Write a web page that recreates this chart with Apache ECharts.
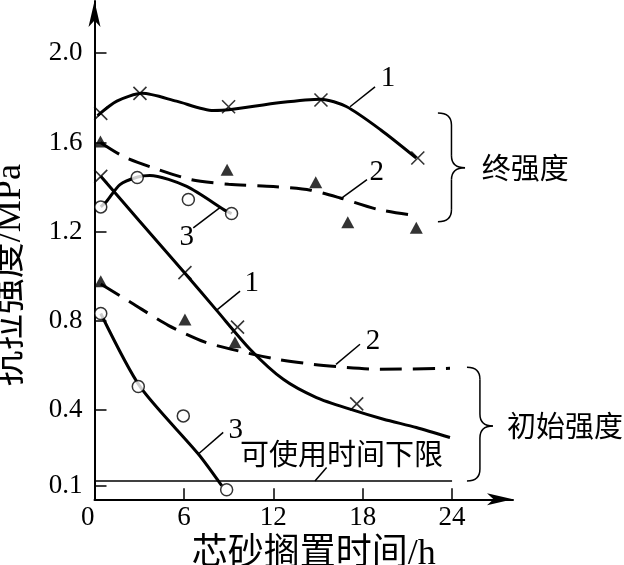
<!DOCTYPE html>
<html>
<head>
<meta charset="utf-8">
<script src="https://cdn.jsdelivr.net/npm/echarts@6/dist/echarts.min.js"></script>
<style>
html,body{margin:0;padding:0;background:#fff;}
#chart{width:624px;height:565px;}
</style>
</head>
<body>
<div id="chart"></div>
<script>
// ---- data ----
const xTicks = [0, 6, 12, 18, 24];
const yTickValues = [0.06, 0.4, 0.8, 1.2, 1.6, 2.0];
const yTickLabels = ['0.1', '0.4', '0.8', '1.2', '1.6', '2.0'];

// final strength (终强度)
const final1Points = [[0.42, 1.73], [3.05, 1.82], [9.0, 1.76], [15.2, 1.79], [21.7, 1.53]];
const final1Curve = [[0.2, 1.72], [1.5, 1.785], [3.2, 1.82], [5.5, 1.785], [7.97, 1.743], [9.0, 1.746], [12.5, 1.779], [15.2, 1.794], [16.9, 1.761], [19.2, 1.657], [21.6, 1.53]];
const final2Points = [[0.4, 1.604], [8.9, 1.478], [14.85, 1.421], [17.0, 1.242], [21.6, 1.217]];
const final2Curve = [[0.4, 1.60], [2.0, 1.535], [4.3, 1.478], [6.5, 1.433], [9.0, 1.412], [12.0, 1.402], [14.5, 1.386], [16.5, 1.351], [19.0, 1.30], [21.5, 1.272]];
const final3Points = [[0.42, 1.311], [2.87, 1.443], [6.3, 1.344], [9.2, 1.281]];
const final3Curve = [[0.42, 1.311], [0.82, 1.336], [1.71, 1.411], [2.9, 1.445], [3.72, 1.452], [6.19, 1.403], [8.87, 1.291], [9.2, 1.281]];

// initial strength (初始强度)
const init1Points = [[0.42, 1.448], [6.07, 1.016], [9.6, 0.772], [17.6, 0.428]];
const init1Curve = [[0.42, 1.448], [3.0, 1.249], [6.07, 1.013], [8.2, 0.847], [10.44, 0.673], [12.67, 0.538], [14.9, 0.456], [17.15, 0.404], [19.4, 0.359], [21.6, 0.322], [23.86, 0.277]];
const init2Points = [[0.42, 0.978], [6.07, 0.806], [9.43, 0.704]];
const init2Curve = [[0.42, 0.965], [2.5, 0.88], [4.95, 0.78], [7.42, 0.705], [9.99, 0.66], [12.23, 0.628], [14.68, 0.605], [16.93, 0.591], [19.16, 0.583], [23.86, 0.587]];
const init3Points = [[0.42, 0.833], [2.94, 0.506], [5.96, 0.374], [8.87, 0.043]];
const init3Curve = [[0.42, 0.833], [3.06, 0.505], [6.97, 0.203], [8.54, 0.061]];

// usable-time lower limit line
const limitLine = [[0, 0.082], [24, 0.082]];

// ---- chart ----
const chart = echarts.init(document.getElementById('chart'), null, {renderer: 'canvas'});
const serif = '"Liberation Serif", "Noto Sans CJK SC", serif';
const cjk = '"Noto Sans CJK SC", sans-serif';

const crossSymbol = 'path://M0 0L10 10M10 0L0 10';

function lineSeries(data, dashed, width) {
  return {
    type: 'line', data: data, smooth: 0.25, showSymbol: false, symbol: 'none',
    lineStyle: {color: '#000', width: width || 3, type: dashed ? [22, 11] : 'solid'},
    z: 2, silent: true
  };
}
function scatterSeries(data, kind) {
  const s = {type: 'scatter', data: data, z: 5, silent: true};
  if (kind === 'x') {
    s.symbol = crossSymbol; s.symbolSize = 13;
    s.itemStyle = {color: 'rgba(0,0,0,0)', borderColor: '#000', borderWidth: 1.6};
  } else if (kind === 't') {
    s.symbol = 'triangle'; s.symbolSize = [13, 12];
    s.itemStyle = {color: '#000'};
  } else {
    s.symbol = 'circle'; s.symbolSize = 12;
    s.itemStyle = {color: '#fff', borderColor: '#000', borderWidth: 1.5};
  }
  return s;
}

const option = {
  animation: false,
  backgroundColor: '#fff',
  grid: {left: 94.5, right: 111, top: 1, bottom: 65.7, containLabel: false, outerBoundsMode: 'none'},
  xAxis: {
    type: 'value', min: 0, max: 28.09,
    name: '芯砂搁置时间/h', nameLocation: 'middle', nameGap: 27,
    nameTextStyle: {fontFamily: serif, fontSize: 36, color: '#000', padding: [0, 0, 0, 20]},
    axisLine: {show: true, lineStyle: {color: '#000', width: 2}, symbol: ['none', 'arrow'], symbolSize: [9, 26]},
    axisTick: {show: true, inside: true, length: 11, lineStyle: {color: '#000', width: 1.5}, customValues: xTicks},
    axisLabel: {customValues: xTicks, fontFamily: serif, fontSize: 27, color: '#000', margin: 5, alignMinLabel: 'right'},
    splitLine: {show: false}
  },
  yAxis: {
    type: 'value', min: 0, max: 2.234,
    name: '抗拉强度/MPa', nameLocation: 'middle', nameGap: 66, nameRotate: 90,
    nameTextStyle: {fontFamily: serif, fontSize: 36, color: '#000', padding: [0, 50, 0, 0]},
    axisLine: {show: true, onZero: false, lineStyle: {color: '#000', width: 2}, symbol: ['none', 'arrow'], symbolSize: [9, 26]},
    axisTick: {show: true, inside: true, length: 12, lineStyle: {color: '#000', width: 1.5}, customValues: yTickValues},
    axisLabel: {
      customValues: yTickValues, fontFamily: serif, fontSize: 27, color: '#000', margin: 12,
      formatter: function (v) {
        let best = 0;
        for (let i = 1; i < yTickValues.length; i++) {
          if (Math.abs(yTickValues[i] - v) < Math.abs(yTickValues[best] - v)) best = i;
        }
        return yTickLabels[best];
      }
    },
    splitLine: {show: false}
  },
  series: [
    {type: 'line', data: limitLine, showSymbol: false, symbol: 'none', lineStyle: {color: '#000', width: 1.5}, z: 1, silent: true},
    lineSeries(final1Curve, false),
    lineSeries(final2Curve, true),
    lineSeries(final3Curve, false),
    lineSeries(init1Curve, false),
    lineSeries(init2Curve, true),
    lineSeries(init3Curve, false),
    scatterSeries(final1Points, 'x'),
    scatterSeries(final2Points, 't'),
    scatterSeries(final3Points, 'o'),
    scatterSeries(init1Points, 'x'),
    scatterSeries(init2Points, 't'),
    scatterSeries(init3Points, 'o')
  ]
};
chart.setOption(option);

// ---- annotations, positioned in data coordinates ----
const leaderLines = [
  [[17.15, 1.76], [18.83, 1.849]],
  [[16.54, 1.348], [18.29, 1.433]],
  [[6.63, 1.217], [8.42, 1.308]],
  [[8.2, 0.848], [9.77, 0.933]],
  [[16.21, 0.605], [17.82, 0.695]],
  [[6.97, 0.203], [8.64, 0.30]],
  [[14.8, 0.082], [15.58, 0.143]]
];
const curveNumbers = [
  ['1', [19.7, 1.889]], ['2', [18.94, 1.467]], ['3', [6.19, 1.174]],
  ['1', [10.55, 0.968]], ['2', [18.69, 0.708]], ['3', [9.48, 0.311]]
];
const groupLabels = [
  ['终强度', [26.0, 1.486]],
  ['初始强度', [27.68, 0.329]]
];
const limitLabel = ['可使用时间下限', [16.58, 0.203]];
const braces = [
  {x0: 23.05, x1: 24.87, yTop: 1.732, yBot: 1.244, yMid: 1.486},
  {x0: 25.0, x1: 26.74, yTop: 0.592, yBot: 0.082, yMid: 0.329}
];

function px(p) { return chart.convertToPixel({xAxisIndex: 0, yAxisIndex: 0}, p); }

const graphics = [];
const strokeStyle = {stroke: '#000', lineWidth: 1.5, fill: null};
leaderLines.forEach(function (l) {
  const a = px(l[0]), b = px(l[1]);
  graphics.push({type: 'line', shape: {x1: a[0], y1: a[1], x2: b[0], y2: b[1]}, style: strokeStyle, z: 10});
});
curveNumbers.forEach(function (t) {
  const p = px(t[1]);
  graphics.push({type: 'text', x: p[0], y: p[1], style: {text: t[0], font: '29px ' + serif, fill: '#000', align: 'center', verticalAlign: 'middle'}, z: 10});
});
groupLabels.forEach(function (t) {
  const p = px(t[1]);
  graphics.push({type: 'text', x: p[0], y: p[1], style: {text: t[0], font: '29px ' + cjk, fill: '#000', align: 'left', verticalAlign: 'middle'}, z: 10});
});
(function () {
  const p = px(limitLabel[1]);
  graphics.push({type: 'text', x: p[0], y: p[1], style: {text: limitLabel[0], font: '29px ' + cjk, fill: '#000', align: 'center', verticalAlign: 'middle'}, z: 10});
})();
braces.forEach(function (b) {
  const tl = px([b.x0, b.yTop]), bl = px([b.x0, b.yBot]), tip = px([b.x1, b.yMid]);
  const x0 = tl[0], x1 = tip[0], y0 = tl[1], y1 = bl[1], ym = tip[1];
  const xm = x0 + (x1 - x0) * 0.5;
  const r = 12;
  graphics.push({type: 'bezierCurve', shape: {x1: x0, y1: y0, x2: xm, y2: y0 + r, cpx1: xm, cpy1: y0}, style: strokeStyle, z: 10});
  graphics.push({type: 'line', shape: {x1: xm, y1: y0 + r, x2: xm, y2: ym - r}, style: strokeStyle, z: 10});
  graphics.push({type: 'bezierCurve', shape: {x1: xm, y1: ym - r, x2: x1, y2: ym, cpx1: xm, cpy1: ym}, style: strokeStyle, z: 10});
  graphics.push({type: 'bezierCurve', shape: {x1: x1, y1: ym, x2: xm, y2: ym + r, cpx1: xm, cpy1: ym}, style: strokeStyle, z: 10});
  graphics.push({type: 'line', shape: {x1: xm, y1: ym + r, x2: xm, y2: y1 - r}, style: strokeStyle, z: 10});
  graphics.push({type: 'bezierCurve', shape: {x1: xm, y1: y1 - r, x2: x0, y2: y1, cpx1: xm, cpy1: y1}, style: strokeStyle, z: 10});
});
chart.setOption({graphic: graphics});
</script>
</body>
</html>
